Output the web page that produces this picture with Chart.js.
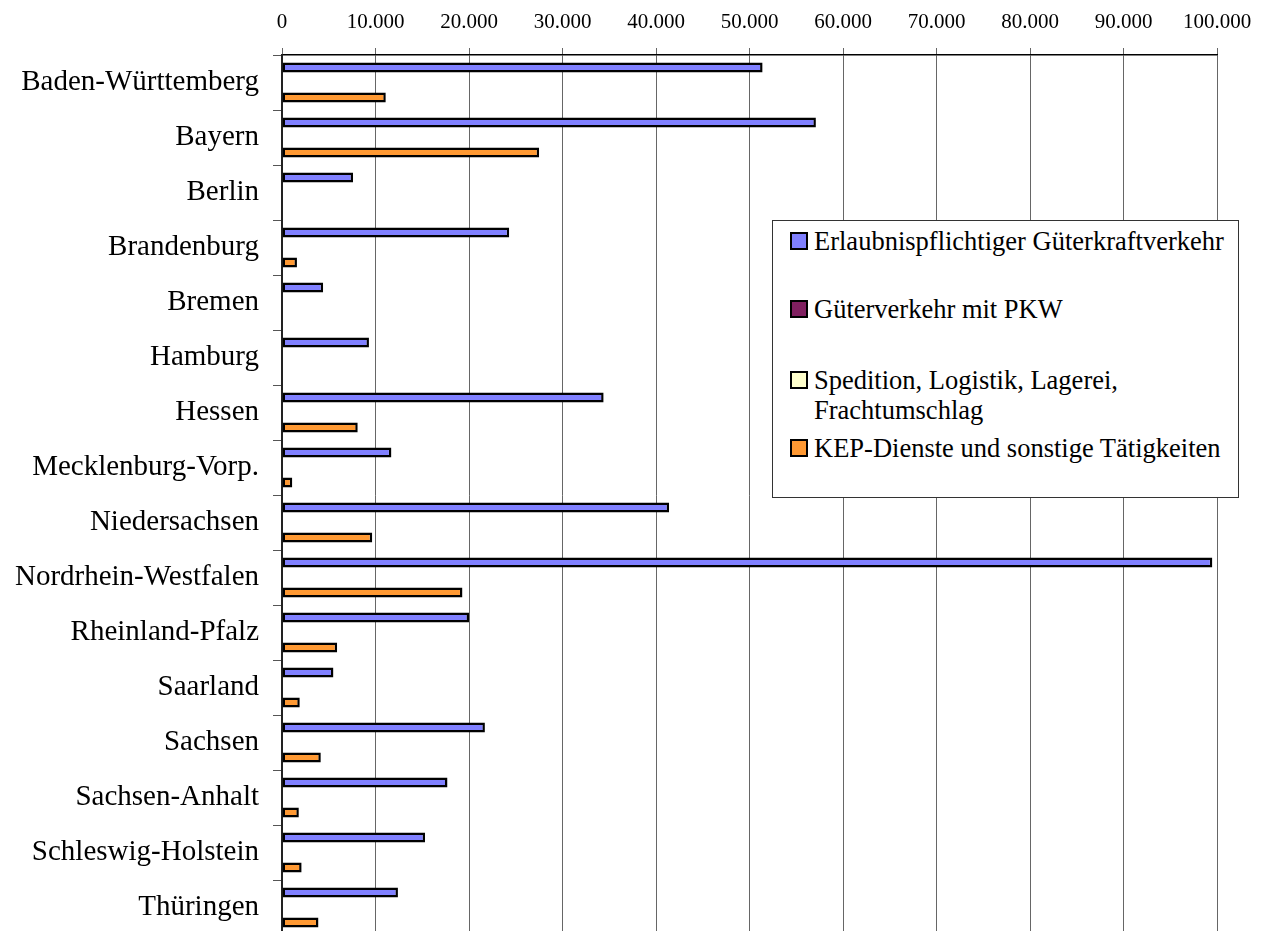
<!DOCTYPE html>
<html lang="de">
<head>
<meta charset="utf-8">
<title>Güterkraftverkehr nach Ländern</title>
<script src="https://cdn.jsdelivr.net/npm/chart.js@4.4.1/dist/chart.umd.min.js"></script>
<style>
  html, body { margin: 0; padding: 0; background: #fff; overflow: hidden; }
  #wrap { position: relative; width: 1267px; height: 940px; }
  #legend {
    position: absolute; left: 772px; top: 220px; width: 465px; height: 276px;
    border: 1px solid #333; background: #fff; color: #000;
    font-family: "Liberation Serif", "Times New Roman", serif; font-size: 26.5px;
  }
  .item { position: absolute; left: 17px; line-height: 30px; padding-left: 24px; white-space: nowrap; }
  .box { position: absolute; left: 0; top: 6px; width: 14px; height: 14px; border: 2px solid #000; }
</style>
</head>
<body>
<div id="wrap">
  <canvas id="chart"></canvas>
  <div id="legend"></div>
</div>
<script>
// categories (Bundesländer)
const laender = [
  "Baden-Württemberg", "Bayern", "Berlin", "Brandenburg", "Bremen", "Hamburg",
  "Hessen", "Mecklenburg-Vorp.", "Niedersachsen", "Nordrhein-Westfalen",
  "Rheinland-Pfalz", "Saarland", "Sachsen", "Sachsen-Anhalt",
  "Schleswig-Holstein", "Thüringen"
];

// series values
const erlaubnispflichtig = [51400, 57100, 7600, 24300, 4400, 9300, 34400, 11700, 41400, 99500, 20000, 5500, 21700, 17700, 15300, 12400];
const pkwVerkehr = [0, 0, 0, 0, 0, 0, 0, 0, 0, 0, 0, 0, 0, 0, 0, 0];
const spedition = [0, 0, 0, 0, 0, 0, 0, 0, 0, 0, 0, 0, 0, 0, 0, 0];
const kepDienste = [11100, 27500, null, 1600, null, null, 8100, 1100, 9650, 19300, 5900, 1900, 4150, 1800, 2100, 3900];

// legend labels (third one wraps onto two lines)
const seriesLabels = [
  ["Erlaubnispflichtiger Güterkraftverkehr"],
  ["Güterverkehr mit PKW"],
  ["Spedition, Logistik, Lagerei,", "Frachtumschlag"],
  ["KEP-Dienste und sonstige Tätigkeiten"]
];
const seriesColors = ["#8080ff", "#802060", "#ffffcc", "#ff9933"];
const legendTops = [5, 73, 144, 212];

// x axis ticks
const xMin = 0;
const xMax = 100000;
const xStep = 10000;

const serif = "'Liberation Serif', 'Times New Roman', serif";

// German thousands separator
const formatNumber = (v) => String(v).replace(/\B(?=(\d{3})+(?!\d))/g, ".");

const seriesData = [erlaubnispflichtig, pkwVerkehr, spedition, kepDienste];

const datasets = seriesData.map((values, i) => ({
  label: seriesLabels[i].join(" "),
  data: values,
  backgroundColor: seriesColors[i],
  borderColor: "#000",
  borderWidth: 2.5,
  borderSkipped: false,
  categoryPercentage: 0.73,
  barPercentage: 1.0,
}));

const ctx = document.getElementById("chart").getContext("2d");

new Chart(ctx, {
  type: "bar",
  data: { labels: laender, datasets: datasets },
  options: {
    indexAxis: "y",
    responsive: true,
    maintainAspectRatio: false,
    animation: false,
    layout: { padding: { top: 0, right: 50, bottom: 5, left: 0 } },
    plugins: {
      legend: { display: false },
      tooltip: { enabled: false },
    },
    scales: {
      x: {
        position: "top",
        min: xMin,
        max: xMax,
        afterFit: (scale) => { scale.height = 55; },
        ticks: {
          stepSize: xStep,
          color: "#000",
          padding: 13,
          font: { family: serif, size: 21 },
          callback: (value) => formatNumber(value),
        },
        grid: { color: "#666", lineWidth: 1, tickLength: 7 },
        border: { color: "#000", width: 1.5 },
      },
      y: {
        afterFit: (scale) => {
          scale.width = 282;
          // labels sit inside their bands, no extra room needed above/below
          scale.paddingTop = 0;
          scale.paddingBottom = 0;
        },
        ticks: {
          color: "#000",
          padding: 14,
          font: { family: serif, size: 29 },
        },
        grid: { offset: true, drawOnChartArea: false, color: "#555", tickLength: 9 },
        border: { color: "#222", width: 2 },
      },
    },
  },
});

// legend box built from the same series
const legendEl = document.getElementById("legend");
seriesLabels.forEach((lines, i) => {
  const item = document.createElement("div");
  item.className = "item";
  item.style.top = legendTops[i] + "px";
  const box = document.createElement("span");
  box.className = "box";
  box.style.background = seriesColors[i];
  item.appendChild(box);
  lines.forEach((line, j) => {
    if (j > 0) item.appendChild(document.createElement("br"));
    item.appendChild(document.createTextNode(line));
  });
  legendEl.appendChild(item);
});
</script>
</body>
</html>
